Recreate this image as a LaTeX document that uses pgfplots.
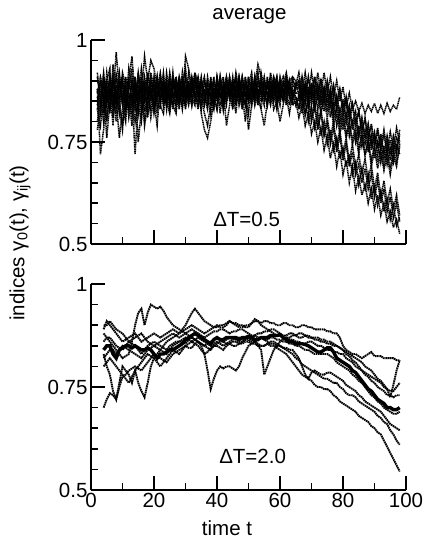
\documentclass[border=0pt]{standalone}
\usepackage{fontspec}
\setmainfont{Liberation Sans}
\usepackage{pgfplots}
\usepackage{pgfplotstable}
\pgfplotsset{compat=1.18}

% indices for the short window (Delta T = 0.5), first group
\pgfplotstableread{
t s1 s2 s3 s4 s5 s6 s7 s8
2 0.86 0.90 0.84 0.88 0.80 0.92 0.87 0.83
3 0.82 0.88 0.90 0.72 0.86 0.85 0.91 0.79
4 0.90 0.84 0.86 0.78 0.92 0.80 0.88 0.86
5 0.85 0.92 0.81 0.87 0.84 0.89 0.76 0.90
6 0.91 0.86 0.88 0.83 0.90 0.82 0.85 0.93
7 0.84 0.89 0.79 0.90 0.86 0.94 0.87 0.81
8 0.88 0.83 0.92 0.85 0.97 0.84 0.80 0.89
9 0.82 0.90 0.86 0.76 0.88 0.91 0.85 0.84
10 0.89 0.85 0.90 0.83 0.84 0.87 0.92 0.78
11 0.86 0.91 0.84 0.88 0.80 0.83 0.89 0.87
12 0.83 0.87 0.93 0.81 0.90 0.86 0.84 0.91
13 0.90 0.84 0.88 0.86 0.96 0.79 0.87 0.85
14 0.85 0.89 0.80 0.91 0.86 0.88 0.72 0.83
15 0.88 0.82 0.86 0.84 0.90 0.75 0.85 0.92
16 0.84 0.90 0.89 0.80 0.87 0.83 0.91 0.86
17 0.91 0.86 0.83 0.88 0.96 0.85 0.79 0.89
18 0.87 0.92 0.85 0.82 0.90 0.88 0.84 0.81
19 0.83 0.88 0.91 0.86 0.95 0.81 0.89 0.87
20 0.89 0.84 0.87 0.90 0.93 0.86 0.82 0.85
21 0.86 0.90 0.82 0.85 0.88 0.91 0.87 0.79
22 0.90 0.85 0.88 0.83 0.92 0.84 0.86 0.89
23 0.84 0.89 0.86 0.91 0.87 0.82 0.90 0.85
24 0.88 0.83 0.90 0.86 0.84 0.89 0.85 0.92
25 0.85 0.91 0.84 0.88 0.90 0.86 0.82 0.87
26 0.89 0.86 0.92 0.83 0.87 0.90 0.88 0.84
27 0.86 0.90 0.85 0.89 0.83 0.87 0.91 0.82
28 0.91 0.84 0.88 0.86 0.90 0.85 0.87 0.89
29 0.87 0.89 0.83 0.92 0.85 0.88 0.84 0.90
30 0.90 0.86 0.89 0.85 0.96 0.83 0.88 0.87
31 0.85 0.92 0.87 0.90 0.93 0.89 0.86 0.84
32 0.89 0.87 0.91 0.84 0.88 0.86 0.90 0.88
33 0.86 0.90 0.85 0.89 0.92 0.84 0.87 0.91
34 0.91 0.85 0.88 0.87 0.89 0.90 0.83 0.86
35 0.87 0.89 0.84 0.91 0.86 0.82 0.88 0.90
36 0.84 0.86 0.90 0.85 0.88 0.78 0.91 0.87
37 0.89 0.83 0.87 0.88 0.84 0.76 0.86 0.90
38 0.86 0.90 0.82 0.86 0.91 0.80 0.89 0.84
39 0.91 0.87 0.88 0.83 0.87 0.85 0.84 0.89
40 0.85 0.89 0.86 0.90 0.83 0.88 0.91 0.86
41 0.88 0.84 0.91 0.87 0.89 0.82 0.86 0.90
42 0.90 0.87 0.85 0.84 0.91 0.88 0.89 0.83
43 0.86 0.91 0.88 0.89 0.85 0.79 0.87 0.90
44 0.89 0.85 0.90 0.86 0.88 0.84 0.91 0.87
45 0.84 0.90 0.86 0.91 0.87 0.89 0.85 0.88
46 0.90 0.87 0.89 0.85 0.82 0.86 0.88 0.91
47 0.87 0.91 0.84 0.88 0.90 0.87 0.86 0.85
48 0.91 0.86 0.88 0.90 0.85 0.83 0.89 0.87
49 0.86 0.89 0.91 0.84 0.88 0.90 0.87 0.80
50 0.88 0.85 0.87 0.89 0.91 0.86 0.78 0.90
51 0.85 0.90 0.86 0.92 0.87 0.89 0.84 0.88
52 0.90 0.87 0.91 0.86 0.89 0.84 0.88 0.86
53 0.87 0.92 0.85 0.89 0.94 0.88 0.86 0.90
54 0.89 0.86 0.90 0.87 0.91 0.85 0.83 0.88
55 0.86 0.90 0.87 0.91 0.85 0.89 0.79 0.87
56 0.90 0.88 0.84 0.86 0.89 0.87 0.85 0.91
57 0.87 0.91 0.88 0.90 0.86 0.84 0.89 0.85
58 0.91 0.86 0.89 0.85 0.90 0.88 0.83 0.89
59 0.88 0.90 0.86 0.89 0.87 0.91 0.85 0.84
60 0.90 0.87 0.91 0.86 0.88 0.85 0.80 0.89
61 0.86 0.89 0.87 0.90 0.85 0.88 0.84 0.91
62 0.91 0.88 0.85 0.87 0.90 0.86 0.89 0.87
63 0.87 0.90 0.89 0.84 0.86 0.82 0.86 0.90
64 0.90 0.86 0.87 0.89 0.84 0.87 0.88 0.91
65 0.89 0.89 0.86 0.88 0.85 0.84 0.86 0.90
66 0.920 0.900 0.850 0.885 0.810 0.865 0.835 0.860
67 0.870 0.860 0.890 0.840 0.840 0.820 0.875 0.910
68 0.920 0.890 0.845 0.880 0.790 0.855 0.820 0.860
69 0.870 0.855 0.885 0.835 0.820 0.800 0.860 0.910
70 0.920 0.895 0.840 0.875 0.770 0.835 0.810 0.860
71 0.870 0.850 0.885 0.830 0.800 0.785 0.850 0.910
72 0.920 0.890 0.830 0.865 0.750 0.820 0.790 0.860
73 0.870 0.840 0.875 0.820 0.785 0.765 0.830 0.905
74 0.920 0.885 0.825 0.855 0.730 0.800 0.770 0.850
75 0.870 0.835 0.870 0.810 0.765 0.745 0.810 0.895
76 0.910 0.875 0.810 0.850 0.710 0.780 0.760 0.840
77 0.860 0.820 0.855 0.790 0.745 0.730 0.800 0.885
78 0.900 0.860 0.790 0.820 0.690 0.760 0.740 0.830
79 0.850 0.800 0.830 0.770 0.730 0.710 0.780 0.875
80 0.885 0.840 0.780 0.805 0.670 0.735 0.720 0.820
81 0.835 0.795 0.820 0.760 0.705 0.690 0.760 0.860
82 0.870 0.830 0.765 0.790 0.650 0.720 0.700 0.800
83 0.830 0.780 0.805 0.745 0.690 0.670 0.745 0.840
84 0.850 0.810 0.750 0.770 0.630 0.700 0.685 0.785
85 0.825 0.760 0.790 0.720 0.665 0.645 0.720 0.825
86 0.845 0.800 0.740 0.765 0.620 0.685 0.670 0.770
87 0.820 0.745 0.780 0.715 0.645 0.630 0.710 0.810
88 0.840 0.785 0.725 0.750 0.600 0.670 0.655 0.755
89 0.825 0.730 0.765 0.690 0.635 0.610 0.695 0.795
90 0.845 0.765 0.710 0.730 0.585 0.645 0.635 0.740
91 0.820 0.720 0.750 0.685 0.620 0.595 0.675 0.785
92 0.840 0.760 0.700 0.725 0.570 0.630 0.615 0.735
93 0.820 0.710 0.740 0.680 0.600 0.580 0.655 0.780
94 0.845 0.755 0.695 0.720 0.555 0.610 0.600 0.730
95 0.825 0.705 0.735 0.670 0.580 0.560 0.635 0.775
96 0.840 0.755 0.700 0.715 0.540 0.595 0.585 0.735
97 0.830 0.720 0.745 0.690 0.560 0.545 0.620 0.785
98 0.860 0.770 0.720 0.740 0.525 0.565 0.570 0.750
}\shortwin

% indices for the short window (Delta T = 0.5), second group
\pgfplotstableread{
t s9 s10 s11 s12
2 0.88 0.83 0.91 0.78
3 0.84 0.90 0.86 0.83
4 0.91 0.86 0.82 0.89
5 0.87 0.80 0.90 0.85
6 0.83 0.88 0.86 0.91
7 0.90 0.84 0.92 0.86
8 0.86 0.91 0.85 0.82
9 0.92 0.85 0.89 0.88
10 0.85 0.79 0.86 0.91
11 0.90 0.87 0.82 0.85
12 0.87 0.83 0.89 0.88
13 0.82 0.90 0.86 0.93
14 0.89 0.85 0.91 0.84
15 0.86 0.92 0.83 0.89
16 0.93 0.86 0.88 0.82
17 0.87 0.80 0.85 0.90
18 0.84 0.89 0.91 0.86
19 0.90 0.85 0.87 0.92
20 0.86 0.91 0.83 0.88
21 0.91 0.87 0.89 0.84
22 0.85 0.90 0.86 0.91
23 0.89 0.84 0.92 0.87
24 0.86 0.88 0.85 0.90
25 0.92 0.83 0.89 0.86
26 0.87 0.90 0.84 0.91
27 0.84 0.86 0.90 0.88
28 0.90 0.91 0.87 0.83
29 0.86 0.87 0.91 0.89
30 0.91 0.84 0.86 0.93
31 0.87 0.90 0.89 0.86
32 0.84 0.86 0.85 0.91
33 0.90 0.92 0.88 0.87
34 0.86 0.88 0.91 0.84
35 0.89 0.83 0.86 0.90
36 0.85 0.90 0.82 0.87
37 0.91 0.86 0.79 0.84
38 0.87 0.89 0.84 0.90
39 0.84 0.85 0.90 0.86
40 0.90 0.91 0.87 0.83
41 0.86 0.87 0.89 0.91
42 0.89 0.83 0.85 0.87
43 0.85 0.90 0.91 0.84
44 0.91 0.86 0.87 0.90
45 0.87 0.89 0.83 0.86
46 0.84 0.85 0.90 0.92
47 0.90 0.91 0.86 0.88
48 0.86 0.87 0.91 0.84
49 0.89 0.84 0.87 0.90
50 0.85 0.90 0.82 0.87
51 0.91 0.86 0.89 0.84
52 0.87 0.89 0.85 0.91
53 0.84 0.85 0.91 0.87
54 0.90 0.92 0.87 0.83
55 0.86 0.88 0.84 0.90
56 0.89 0.84 0.90 0.86
57 0.85 0.90 0.86 0.92
58 0.91 0.87 0.89 0.88
59 0.87 0.83 0.85 0.91
60 0.84 0.89 0.90 0.86
61 0.90 0.85 0.87 0.89
62 0.86 0.91 0.84 0.92
63 0.89 0.87 0.90 0.88
64 0.85 0.84 0.86 0.91
65 0.88 0.86 0.89 0.87
66 0.900 0.830 0.890 0.870
67 0.860 0.865 0.850 0.910
68 0.895 0.815 0.885 0.870
69 0.855 0.850 0.840 0.905
70 0.895 0.800 0.880 0.870
71 0.855 0.835 0.835 0.910
72 0.890 0.780 0.870 0.865
73 0.850 0.820 0.825 0.900
74 0.885 0.765 0.865 0.860
75 0.845 0.795 0.825 0.900
76 0.880 0.745 0.855 0.855
77 0.835 0.785 0.805 0.890
78 0.865 0.725 0.835 0.845
79 0.820 0.765 0.785 0.880
80 0.855 0.705 0.820 0.835
81 0.810 0.745 0.770 0.860
82 0.840 0.690 0.800 0.815
83 0.795 0.725 0.755 0.845
84 0.825 0.670 0.785 0.800
85 0.770 0.695 0.735 0.825
86 0.810 0.650 0.770 0.780
87 0.760 0.685 0.720 0.805
88 0.795 0.635 0.755 0.765
89 0.745 0.670 0.705 0.790
90 0.775 0.615 0.740 0.745
91 0.735 0.655 0.700 0.775
92 0.770 0.600 0.735 0.735
93 0.725 0.635 0.690 0.765
94 0.765 0.580 0.730 0.725
95 0.720 0.615 0.685 0.755
96 0.765 0.565 0.730 0.720
97 0.735 0.600 0.700 0.760
98 0.780 0.555 0.745 0.745
}\shortwinb

% indices for the long window (Delta T = 2.0); b0 is the average
\pgfplotstableread{
t b0 b1 b2 b3 b4 b5 b6 b7 b8
4 0.840 0.890 0.900 0.820 0.800 0.700 0.860 0.880 0.830
5 0.850 0.910 0.900 0.830 0.810 0.720 0.870 0.870 0.800
6 0.850 0.900 0.910 0.840 0.820 0.735 0.870 0.860 0.780
7 0.830 0.890 0.900 0.840 0.810 0.730 0.860 0.850 0.740
8 0.820 0.880 0.890 0.830 0.800 0.720 0.850 0.840 0.720
9 0.840 0.870 0.885 0.840 0.790 0.750 0.845 0.830 0.760
10 0.845 0.860 0.880 0.850 0.780 0.775 0.840 0.820 0.800
11 0.850 0.865 0.870 0.845 0.770 0.780 0.850 0.825 0.790
12 0.850 0.870 0.860 0.840 0.760 0.790 0.860 0.830 0.780
13 0.845 0.875 0.865 0.835 0.775 0.795 0.855 0.860 0.760
14 0.850 0.880 0.870 0.830 0.790 0.800 0.850 0.900 0.790
15 0.845 0.870 0.875 0.825 0.800 0.795 0.840 0.930 0.760
16 0.840 0.860 0.880 0.820 0.810 0.790 0.830 0.940 0.740
17 0.840 0.865 0.870 0.830 0.820 0.800 0.840 0.900 0.725
18 0.845 0.870 0.860 0.840 0.830 0.810 0.850 0.930 0.760
19 0.840 0.875 0.855 0.845 0.825 0.820 0.855 0.950 0.800
20 0.830 0.880 0.850 0.850 0.820 0.830 0.860 0.945 0.820
21 0.820 0.875 0.855 0.845 0.810 0.825 0.855 0.940 0.830
22 0.830 0.870 0.860 0.840 0.800 0.820 0.850 0.945 0.840
23 0.830 0.875 0.865 0.835 0.810 0.815 0.845 0.935 0.850
24 0.835 0.880 0.870 0.830 0.820 0.810 0.840 0.920 0.860
25 0.840 0.885 0.875 0.840 0.830 0.820 0.850 0.910 0.865
26 0.840 0.890 0.880 0.850 0.840 0.830 0.855 0.900 0.870
27 0.845 0.885 0.875 0.855 0.835 0.835 0.860 0.895 0.875
28 0.850 0.880 0.870 0.860 0.830 0.840 0.860 0.890 0.880
29 0.855 0.885 0.875 0.860 0.840 0.845 0.865 0.885 0.890
30 0.865 0.890 0.880 0.855 0.850 0.850 0.870 0.880 0.900
31 0.870 0.895 0.885 0.865 0.855 0.845 0.865 0.875 0.915
32 0.875 0.900 0.890 0.870 0.860 0.845 0.860 0.870 0.930
33 0.880 0.895 0.885 0.865 0.855 0.855 0.865 0.865 0.940
34 0.875 0.890 0.880 0.860 0.850 0.860 0.870 0.860 0.930
35 0.870 0.885 0.875 0.855 0.840 0.855 0.865 0.850 0.920
36 0.865 0.880 0.870 0.850 0.830 0.850 0.860 0.830 0.910
37 0.860 0.885 0.875 0.855 0.835 0.845 0.855 0.790 0.905
38 0.855 0.890 0.880 0.860 0.845 0.840 0.850 0.745 0.900
39 0.865 0.895 0.885 0.865 0.850 0.850 0.855 0.770 0.895
40 0.870 0.900 0.885 0.870 0.850 0.855 0.860 0.790 0.895
41 0.865 0.895 0.890 0.865 0.845 0.860 0.855 0.800 0.900
42 0.865 0.895 0.890 0.860 0.840 0.860 0.850 0.795 0.900
43 0.870 0.900 0.885 0.865 0.850 0.855 0.855 0.800 0.905
44 0.870 0.910 0.880 0.870 0.855 0.855 0.860 0.800 0.910
45 0.870 0.905 0.885 0.870 0.860 0.850 0.865 0.795 0.905
46 0.870 0.900 0.885 0.865 0.860 0.850 0.870 0.790 0.905
47 0.865 0.895 0.890 0.860 0.855 0.855 0.870 0.800 0.900
48 0.870 0.895 0.890 0.860 0.855 0.860 0.865 0.820 0.900
49 0.870 0.900 0.885 0.865 0.860 0.865 0.870 0.835 0.895
50 0.873 0.900 0.880 0.870 0.860 0.865 0.870 0.850 0.895
51 0.870 0.905 0.875 0.870 0.855 0.860 0.865 0.855 0.905
52 0.865 0.910 0.875 0.875 0.855 0.860 0.860 0.860 0.915
53 0.865 0.910 0.880 0.870 0.850 0.855 0.865 0.850 0.910
54 0.870 0.905 0.880 0.870 0.850 0.850 0.870 0.840 0.900
55 0.870 0.910 0.885 0.865 0.850 0.850 0.865 0.780 0.895
56 0.870 0.910 0.885 0.865 0.855 0.855 0.860 0.800 0.890
57 0.875 0.905 0.890 0.870 0.860 0.850 0.855 0.820 0.885
58 0.875 0.905 0.890 0.870 0.860 0.850 0.855 0.840 0.880
59 0.875 0.900 0.885 0.865 0.855 0.845 0.850 0.850 0.875
60 0.877 0.900 0.880 0.865 0.850 0.840 0.850 0.860 0.875
61 0.870 0.905 0.875 0.860 0.845 0.835 0.845 0.865 0.870
62 0.865 0.905 0.875 0.860 0.845 0.830 0.840 0.870 0.870
63 0.860 0.900 0.880 0.855 0.840 0.820 0.835 0.870 0.865
64 0.860 0.900 0.880 0.855 0.840 0.810 0.830 0.875 0.865
65 0.855 0.895 0.875 0.850 0.830 0.800 0.820 0.875 0.860
66 0.855 0.895 0.870 0.850 0.820 0.790 0.815 0.880 0.860
67 0.855 0.900 0.870 0.845 0.800 0.780 0.805 0.880 0.855
68 0.853 0.900 0.875 0.840 0.780 0.775 0.800 0.875 0.855
69 0.850 0.895 0.870 0.840 0.770 0.770 0.795 0.875 0.860
70 0.845 0.895 0.870 0.835 0.785 0.765 0.790 0.870 0.860
71 0.840 0.890 0.865 0.830 0.790 0.755 0.785 0.870 0.855
72 0.835 0.890 0.865 0.830 0.785 0.750 0.780 0.870 0.850
73 0.835 0.890 0.860 0.830 0.780 0.750 0.775 0.865 0.850
74 0.840 0.890 0.860 0.830 0.780 0.745 0.770 0.865 0.845
75 0.845 0.885 0.855 0.830 0.785 0.745 0.770 0.860 0.840
76 0.845 0.885 0.855 0.825 0.785 0.740 0.765 0.860 0.840
77 0.835 0.880 0.850 0.820 0.780 0.730 0.760 0.855 0.835
78 0.820 0.880 0.850 0.810 0.775 0.725 0.760 0.850 0.835
79 0.815 0.870 0.845 0.805 0.770 0.715 0.750 0.845 0.830
80 0.810 0.850 0.840 0.800 0.765 0.710 0.745 0.840 0.830
81 0.805 0.840 0.830 0.795 0.755 0.705 0.735 0.835 0.820
82 0.800 0.835 0.825 0.790 0.750 0.700 0.730 0.830 0.815
83 0.790 0.830 0.815 0.780 0.745 0.695 0.730 0.825 0.810
84 0.785 0.830 0.810 0.775 0.740 0.690 0.725 0.820 0.800
85 0.775 0.825 0.800 0.765 0.730 0.680 0.715 0.815 0.795
86 0.765 0.820 0.790 0.760 0.725 0.675 0.710 0.810 0.790
87 0.755 0.825 0.780 0.750 0.715 0.670 0.705 0.800 0.785
88 0.745 0.830 0.775 0.740 0.710 0.665 0.700 0.795 0.780
89 0.740 0.835 0.765 0.730 0.705 0.655 0.695 0.790 0.775
90 0.730 0.825 0.760 0.725 0.700 0.650 0.690 0.780 0.770
91 0.720 0.825 0.750 0.715 0.695 0.640 0.680 0.770 0.765
92 0.715 0.825 0.745 0.710 0.690 0.635 0.675 0.765 0.760
93 0.710 0.820 0.740 0.700 0.680 0.620 0.665 0.755 0.750
94 0.700 0.820 0.730 0.695 0.670 0.605 0.660 0.745 0.745
95 0.700 0.820 0.730 0.690 0.660 0.590 0.645 0.725 0.740
96 0.695 0.820 0.725 0.685 0.655 0.575 0.635 0.755 0.740
97 0.695 0.815 0.730 0.685 0.650 0.560 0.620 0.790 0.750
98 0.700 0.815 0.730 0.690 0.645 0.545 0.610 0.815 0.760
}\longwin

\pgfplotsset{
  panel/.style={
    scale only axis, width=315pt,
    xmin=0, xmax=100, ymin=0.5, ymax=1,
    axis x line*=bottom, axis y line*=left,
    axis line style={-, line width=1.8pt},
    tick align=inside,
    xtick={0,20,...,100}, minor xtick={10,30,...,90},
    ytick={0.5,0.75,1}, yticklabels={0.5,0.75,1},
    minor ytick={0.55,0.6,0.65,0.7,0.8,0.85,0.9,0.95},
    major tick length=14pt, minor tick length=7pt,
    every tick/.style={black, line width=1.6pt},
    tick label style={font=\fontsize{20.5}{24}\selectfont},
    /pgf/number format/assume math mode=true,
  },
  noisy/.style={black, line width=1.5pt, dash pattern=on 1.2pt off 0.6pt},
  trace/.style={black, line width=1.9pt, dash pattern=on 1.6pt off 0.6pt},
  mean/.style={black, line width=3.4pt},
}

\begin{document}
\begin{tikzpicture}[big/.style={font=\fontsize{20.5}{24}\selectfont}]
\useasboundingbox (0,0) rectangle (424pt,539pt);

\begin{axis}[panel, height=204pt, at={(91pt,295pt)}, anchor=south west,
  xticklabels={}]
  \pgfplotsinvokeforeach{s1,s2,s3,s4,s5,s6,s7,s8}{
    \addplot[noisy] table[x=t, y=#1] {\shortwin};
  }
  \pgfplotsinvokeforeach{s9,s10,s11,s12}{
    \addplot[noisy] table[x=t, y=#1] {\shortwinb};
  }
  \node[anchor=base, big] at (axis cs:49.4,0.542) {ΔT=0.5};
\end{axis}

\begin{axis}[panel, height=206pt, at={(91pt,49pt)}, anchor=south west]
  \pgfplotsinvokeforeach{b1,b2,b3,b4,b5,b6,b7,b8}{
    \addplot[trace] table[x=t, y=#1] {\longwin};
  }
  \addplot[mean] table[x=t, y=b0] {\longwin};
  \node[anchor=base, big] at (axis cs:51.3,0.565) {ΔT=2.0};
\end{axis}

\node[anchor=base, big, inner sep=0pt] at (249.5pt,519pt) {average};
\node[anchor=base, big, inner sep=0pt] at (227pt,4pt) {time t};
\node[rotate=90, big, inner sep=0pt] at (20pt,296pt)
  {indices γ\textsubscript{0}(t), γ\textsubscript{ij}(t)};
\end{tikzpicture}
\end{document}
